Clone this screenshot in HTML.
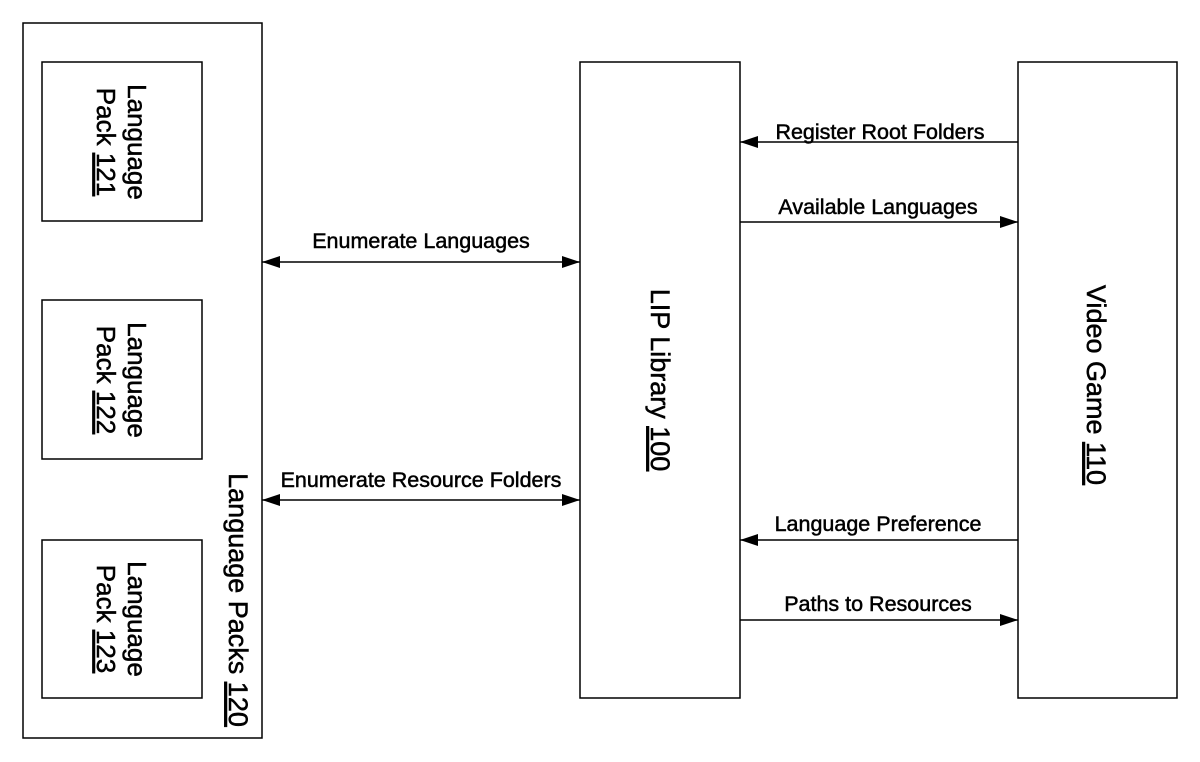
<!DOCTYPE html>
<html><head><meta charset="utf-8"><style>html,body{margin:0;padding:0;background:#fff}svg{display:block}</style></head>
<body>
<svg width="1200" height="762" viewBox="0 0 1200 762" xmlns="http://www.w3.org/2000/svg" font-family="Liberation Sans, Arial, sans-serif">
<defs>
<marker id="a" markerWidth="18" markerHeight="12" refX="18" refY="6" orient="auto" markerUnits="userSpaceOnUse"><path d="M0,0 L18,6 L0,12 Z" fill="#000"/></marker>
<marker id="b" markerWidth="18" markerHeight="12" refX="0" refY="6" orient="auto" markerUnits="userSpaceOnUse"><path d="M18,0 L0,6 L18,12 Z" fill="#000"/></marker>
</defs>
<g fill="none" stroke="#000" stroke-width="1.5">
<rect x="23" y="23" width="239" height="715"/>
<rect x="42" y="62" width="160" height="159"/>
<rect x="42" y="300" width="160" height="159"/>
<rect x="42" y="540" width="160" height="158"/>
<rect x="580" y="62" width="160" height="636"/>
<rect x="1018" y="62" width="159" height="636"/>
<line x1="1018" y1="142" x2="740" y2="142" marker-end="url(#a)"/>
<line x1="740" y1="222" x2="1018" y2="222" marker-end="url(#a)"/>
<line x1="262" y1="262" x2="580" y2="262" marker-start="url(#b)" marker-end="url(#a)"/>
<line x1="262" y1="500" x2="580" y2="500" marker-start="url(#b)" marker-end="url(#a)"/>
<line x1="1018" y1="540" x2="740" y2="540" marker-end="url(#a)"/>
<line x1="740" y1="620" x2="1018" y2="620" marker-end="url(#a)"/>
</g>
<g font-size="21.5" text-anchor="middle" fill="#000" stroke="#000" stroke-width="0.5">
<text x="880" y="139">Register Root Folders</text>
<text x="878" y="214">Available Languages</text>
<text x="421" y="248">Enumerate Languages</text>
<text x="421" y="487">Enumerate Resource Folders</text>
<text x="878" y="531">Language Preference</text>
<text x="878" y="611">Paths to Resources</text>
</g>
<g text-anchor="middle" fill="#000" stroke="#000" stroke-width="0.5">
<g font-size="26">
<text transform="translate(128,142) rotate(90)">Language</text>
<text transform="translate(97,142) rotate(90)">Pack <tspan text-decoration="underline">121</tspan></text>
<text transform="translate(128,380) rotate(90)">Language</text>
<text transform="translate(97,380) rotate(90)">Pack <tspan text-decoration="underline">122</tspan></text>
<text transform="translate(128,619) rotate(90)">Language</text>
<text transform="translate(97,619) rotate(90)">Pack <tspan text-decoration="underline">123</tspan></text>
</g>
<text font-size="27" transform="translate(229,600) rotate(90)">Language Packs <tspan text-decoration="underline">120</tspan></text>
<text font-size="27" transform="translate(651,380) rotate(90)">LIP Library <tspan text-decoration="underline">100</tspan></text>
<text font-size="27" transform="translate(1087,385) rotate(90)">Video Game <tspan text-decoration="underline">110</tspan></text>
</g>
</svg>
</body></html>
